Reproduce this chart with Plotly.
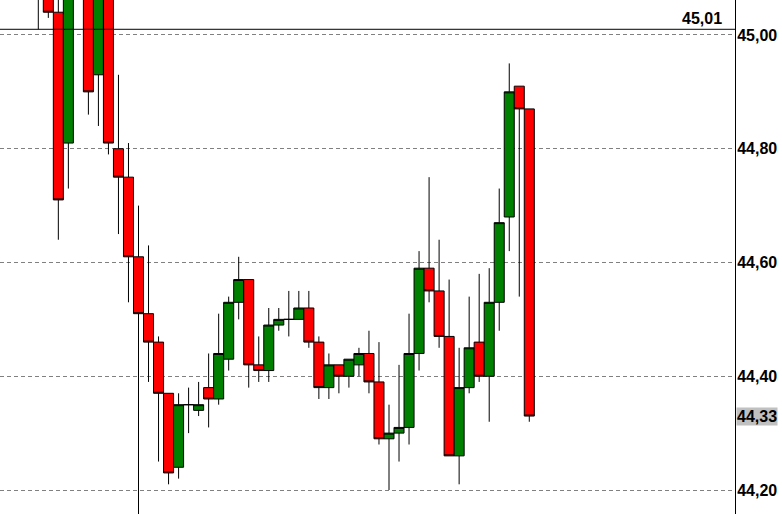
import plotly.graph_objects as go

# Candle index (time slots)
idx = list(range(50))
opens = [45.15, 45.10, 45.04, 44.81, 45.10, 45.12, 44.93, 45.08, 44.80, 44.75,
         44.61, 44.51, 44.46, 44.37, 44.24, 44.35, 44.34, 44.38, 44.36, 44.43,
         44.53, 44.57, 44.42, 44.41, 44.49, 44.50, 44.50, 44.52, 44.46, 44.38,
         44.42, 44.40, 44.42, 44.44, 44.39, 44.29, 44.30, 44.31, 44.44, 44.59,
         44.55, 44.47, 44.26, 44.38, 44.46, 44.40, 44.53, 44.68, 44.91, 44.87]
highs = [45.20, 45.12, 45.08, 45.12, 45.16, 45.14, 45.10, 45.09, 44.93, 44.81,
         44.70, 44.63, 44.47, 44.37, 44.37, 44.38, 44.39, 44.44, 44.51, 44.54,
         44.61, 44.57, 44.47, 44.52, 44.52, 44.55, 44.55, 44.55, 44.47, 44.44,
         44.42, 44.43, 44.45, 44.48, 44.46, 44.35, 44.42, 44.51, 44.62, 44.75,
         44.64, 44.57, 44.45, 44.54, 44.58, 44.59, 44.73, 44.95, 44.91, 44.87]
lows = [45.01, 45.03, 44.64, 44.73, 45.08, 44.86, 44.84, 44.79, 44.65, 44.53,
        44.14, 44.39, 44.25, 44.21, 44.22, 44.30, 44.33, 44.31, 44.35, 44.41,
        44.50, 44.38, 44.39, 44.39, 44.48, 44.47, 44.50, 44.45, 44.36, 44.36,
        44.37, 44.38, 44.40, 44.37, 44.28, 44.20, 44.25, 44.28, 44.41, 44.53,
        44.45, 44.26, 44.21, 44.37, 44.39, 44.32, 44.48, 44.62, 44.54, 44.32]
closes = [45.10, 45.04, 44.71, 45.10, 45.13, 44.90, 45.09, 44.81, 44.75, 44.61,
          44.51, 44.46, 44.37, 44.23, 44.35, 44.35, 44.35, 44.36, 44.44, 44.53,
          44.57, 44.42, 44.41, 44.49, 44.50, 44.50, 44.52, 44.46, 44.38, 44.42,
          44.40, 44.43, 44.44, 44.39, 44.29, 44.30, 44.31, 44.44, 44.59, 44.55,
          44.47, 44.26, 44.38, 44.45, 44.40, 44.53, 44.67, 44.90, 44.87, 44.33]

y_ticks = [44.20, 44.40, 44.60, 44.80, 45.00]
y_tick_labels = ["44,20", "44,40", "44,60", "44,80", "45,00"]
ref_level = 45.01
ref_label = "45,01"
last_label = "44,33"

fig = go.Figure(go.Candlestick(
    x=idx, open=opens, high=highs, low=lows, close=closes,
    increasing=dict(line=dict(color="black", width=1), fillcolor="#008000"),
    decreasing=dict(line=dict(color="black", width=1), fillcolor="#ff0000"),
    whiskerwidth=0, hoverinfo="skip",
))

font_bold = dict(family="Liberation Sans, Arial, sans-serif", size=16, color="black", weight="bold")

fig.update_layout(
    width=782, height=514,
    margin=dict(l=0, r=47, t=0, b=0, autoexpand=False),
    plot_bgcolor="white", paper_bgcolor="white",
    showlegend=False, separators=",.",
    boxgap=0, boxgroupgap=0,
    xaxis=dict(visible=False, range=[-3.822, 69.53], rangeslider=dict(visible=False),
               automargin=False),
    yaxis=dict(
        side="right", range=[44.1578, 45.0615], automargin=False,
        tickvals=y_ticks, ticktext=y_tick_labels,
        showgrid=True, gridcolor="#808080", gridwidth=1, griddash="4px,3px",
        showline=True, linecolor="black", linewidth=1,
        ticks="", zeroline=False, tickfont=font_bold, ticklabelstandoff=-2,
    ),
    shapes=[dict(type="line", xref="paper", x0=0, x1=1, yref="y", y0=ref_level, y1=ref_level,
                 line=dict(color="black", width=1), layer="above")],
    annotations=[
        dict(text=ref_label, xref="paper", x=0.985, xanchor="right", yref="y", y=ref_level,
             yanchor="bottom", showarrow=False, font=font_bold),
        dict(text=last_label, xref="paper", x=1, xanchor="left", xshift=1, yref="y", y=closes[-1],
             yanchor="middle", showarrow=False, font=font_bold, bgcolor="#c0c0c0", borderpad=0),
    ],
)

fig.write_html("out.html", config={"displayModeBar": False, "staticPlot": True},
               post_script="document.body.style.margin='0';document.body.style.overflow='hidden';")
